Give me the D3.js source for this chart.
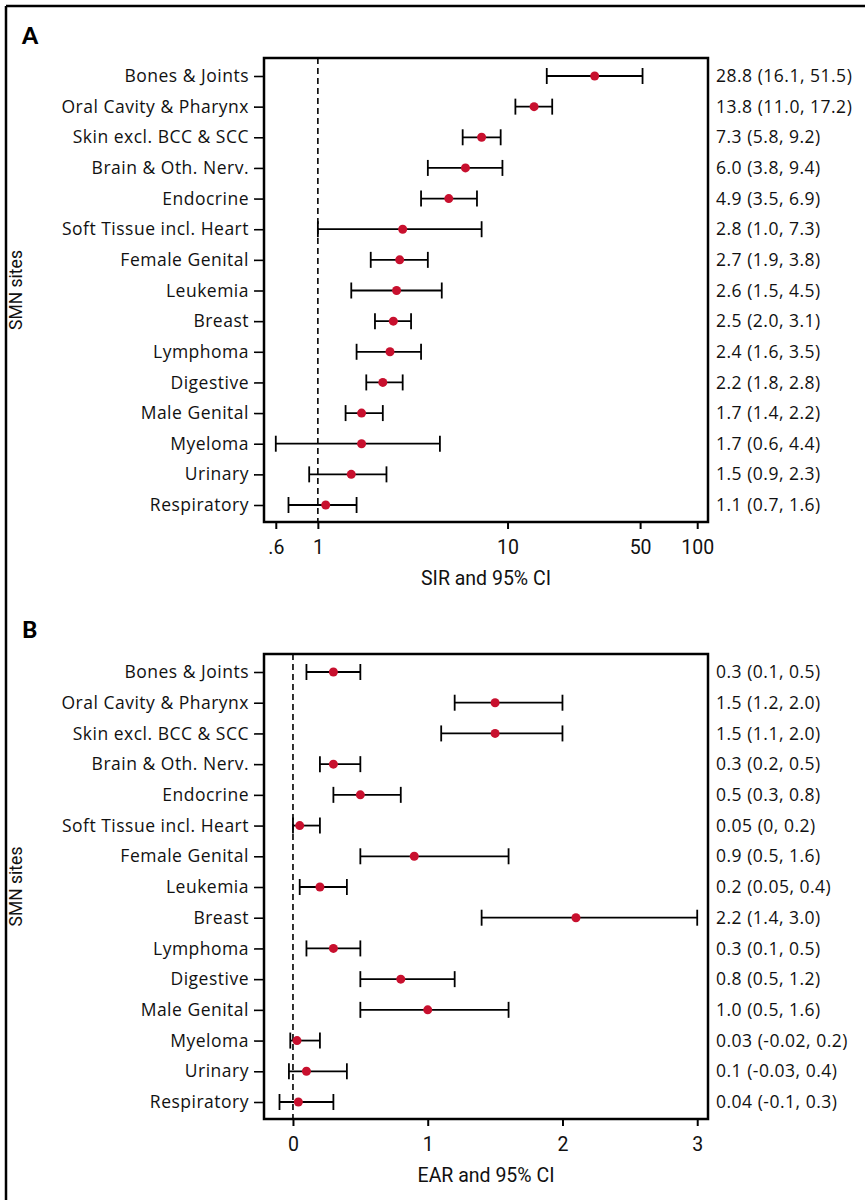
<!DOCTYPE html>
<html>
<head>
<meta charset="utf-8">
<script src="https://cdn.jsdelivr.net/npm/d3@7"></script>
<style>
  body { margin: 0; background: #fff; }
  .lab { font-family: "Open Sans", "Noto Sans", sans-serif; font-size: 17.5px; letter-spacing: 0.5px; fill: #111; }
  .cond { font-family: "Liberation Sans Narrow", "Roboto", sans-serif; font-size: 19.5px; fill: #111; }
  .ylab { font-family: "Liberation Sans Narrow", "Roboto", sans-serif; font-size: 17.5px; fill: #111; }
</style>
</head>
<body>
<div id="chart"></div>
<script>
// SMN sites, same order in both panels
var sites = ["Bones & Joints", "Oral Cavity & Pharynx", "Skin excl. BCC & SCC", "Brain & Oth. Nerv.",
  "Endocrine", "Soft Tissue incl. Heart", "Female Genital", "Leukemia", "Breast", "Lymphoma",
  "Digestive", "Male Genital", "Myeloma", "Urinary", "Respiratory"];

// panel A - SIR
var sirEst = [28.8, 13.8, 7.3, 6.0, 4.9, 2.8, 2.7, 2.6, 2.5, 2.4, 2.2, 1.7, 1.7, 1.5, 1.1];
var sirLow = [16.1, 11.0, 5.8, 3.8, 3.5, 1.0, 1.9, 1.5, 2.0, 1.6, 1.8, 1.4, 0.6, 0.9, 0.7];
var sirHigh = [51.5, 17.2, 9.2, 9.4, 6.9, 7.3, 3.8, 4.5, 3.1, 3.5, 2.8, 2.2, 4.4, 2.3, 1.6];
var sirText = ["28.8 (16.1, 51.5)", "13.8 (11.0, 17.2)", "7.3 (5.8, 9.2)", "6.0 (3.8, 9.4)",
  "4.9 (3.5, 6.9)", "2.8 (1.0, 7.3)", "2.7 (1.9, 3.8)", "2.6 (1.5, 4.5)", "2.5 (2.0, 3.1)",
  "2.4 (1.6, 3.5)", "2.2 (1.8, 2.8)", "1.7 (1.4, 2.2)", "1.7 (0.6, 4.4)", "1.5 (0.9, 2.3)",
  "1.1 (0.7, 1.6)"];
var sirTicks = [0.6, 1, 10, 50, 100];
var sirTickText = [".6", "1", "10", "50", "100"];

// panel B - EAR
var earEst = [0.3, 1.5, 1.5, 0.3, 0.5, 0.05, 0.9, 0.2, 2.1, 0.3, 0.8, 1.0, 0.03, 0.1, 0.04];
var earLow = [0.1, 1.2, 1.1, 0.2, 0.3, 0, 0.5, 0.05, 1.4, 0.1, 0.5, 0.5, -0.02, -0.03, -0.1];
var earHigh = [0.5, 2.0, 2.0, 0.5, 0.8, 0.2, 1.6, 0.4, 3.0, 0.5, 1.2, 1.6, 0.2, 0.4, 0.3];
var earText = ["0.3 (0.1, 0.5)", "1.5 (1.2, 2.0)", "1.5 (1.1, 2.0)", "0.3 (0.2, 0.5)",
  "0.5 (0.3, 0.8)", "0.05 (0, 0.2)", "0.9 (0.5, 1.6)", "0.2 (0.05, 0.4)", "2.2 (1.4, 3.0)",
  "0.3 (0.1, 0.5)", "0.8 (0.5, 1.2)", "1.0 (0.5, 1.6)", "0.03 (-0.02, 0.2)",
  "0.1 (-0.03, 0.4)", "0.04 (-0.1, 0.3)"];
var earTicks = [0, 1, 2, 3];

var svg = d3.select("#chart").append("svg")
  .attr("width", 865)
  .attr("height", 1200);

// outer frame (top + left edges only)
svg.append("line").attr("x1", 6).attr("x2", 865).attr("y1", 6).attr("y2", 6)
  .attr("stroke", "#000").attr("stroke-width", 2.5);
svg.append("line").attr("x1", 6).attr("x2", 6).attr("y1", 6).attr("y2", 1200)
  .attr("stroke", "#000").attr("stroke-width", 2.5);

var left = 264, right = 708;

function drawPanel(opt) {
  var g = svg.append("g");
  var x = opt.x;
  var y = d3.scalePoint().domain(sites).range([opt.top + 18, opt.bottom - 17]);

  g.append("text")
    .attr("x", 22).attr("y", opt.letterY)
    .style("font-family", "Lato, sans-serif").style("font-weight", 900).style("font-size", "23px")
    .text(opt.letter);

  // dashed reference line
  g.append("line")
    .attr("x1", x(opt.ref)).attr("x2", x(opt.ref))
    .attr("y1", opt.top).attr("y2", opt.bottom)
    .attr("stroke", "#000").attr("stroke-width", 1.6)
    .attr("stroke-dasharray", "6,4");

  // left axis with site names
  var yAxis = g.append("g")
    .attr("transform", `translate(${left},0)`)
    .call(d3.axisLeft(y).tickSize(10).tickPadding(5));
  yAxis.select(".domain").remove();
  yAxis.selectAll("line").attr("stroke-width", 1.6);
  yAxis.selectAll("text").attr("class", "lab").attr("font-family", null).attr("font-size", null);

  // bottom axis
  var xAxis = g.append("g")
    .attr("transform", `translate(0,${opt.bottom})`)
    .call(d3.axisBottom(x).tickValues(opt.ticks).tickFormat((d, i) => opt.tickText[i])
      .tickSize(7).tickPadding(11));
  xAxis.select(".domain").remove();
  xAxis.selectAll("line").attr("stroke-width", 2);
  xAxis.selectAll("text").attr("class", "cond").attr("font-family", null).attr("font-size", null);

  // box
  g.append("rect")
    .attr("x", left).attr("y", opt.top)
    .attr("width", right - left).attr("height", opt.bottom - opt.top)
    .attr("fill", "none").attr("stroke", "#000").attr("stroke-width", 2.5);

  var rows = g.selectAll(".row").data(sites).enter().append("g").attr("class", "row");
  rows.append("line")
    .attr("x1", (d, i) => x(opt.low[i])).attr("x2", (d, i) => x(opt.high[i]))
    .attr("y1", d => y(d)).attr("y2", d => y(d))
    .attr("stroke", "#000").attr("stroke-width", 1.8);
  rows.append("line")
    .attr("x1", (d, i) => x(opt.low[i])).attr("x2", (d, i) => x(opt.low[i]))
    .attr("y1", d => y(d) - 8).attr("y2", d => y(d) + 8)
    .attr("stroke", "#000").attr("stroke-width", 1.8);
  rows.append("line")
    .attr("x1", (d, i) => x(opt.high[i])).attr("x2", (d, i) => x(opt.high[i]))
    .attr("y1", d => y(d) - 8).attr("y2", d => y(d) + 8)
    .attr("stroke", "#000").attr("stroke-width", 1.8);
  rows.append("circle")
    .attr("cx", (d, i) => x(opt.est[i])).attr("cy", d => y(d))
    .attr("r", 4.5).attr("fill", "#c8102e");
  rows.append("text")
    .attr("class", "lab")
    .attr("x", right + 8).attr("y", d => y(d)).attr("dy", "0.35em")
    .text((d, i) => opt.text[i]);

  // axis titles
  g.append("text").attr("class", "cond")
    .attr("x", (left + right) / 2).attr("y", opt.bottom + 63)
    .attr("text-anchor", "middle").text(opt.title);
  g.append("text").attr("class", "ylab")
    .attr("transform", `translate(22,${(opt.top + opt.bottom) / 2}) rotate(-90)`)
    .attr("text-anchor", "middle").text("SMN sites");
}

drawPanel({
  letter: "A", letterY: 44, top: 58, bottom: 522,
  x: d3.scaleLog().domain([0.52, 114]).range([left, right]),
  ref: 1, ticks: sirTicks, tickText: sirTickText,
  est: sirEst, low: sirLow, high: sirHigh, text: sirText,
  title: "SIR and 95% CI"
});

drawPanel({
  letter: "B", letterY: 638, top: 654, bottom: 1119,
  x: d3.scaleLinear().domain([-0.215, 3.08]).range([left, right]),
  ref: 0, ticks: earTicks, tickText: earTicks.map(String),
  est: earEst, low: earLow, high: earHigh, text: earText,
  title: "EAR and 95% CI"
});
</script>
</body>
</html>
